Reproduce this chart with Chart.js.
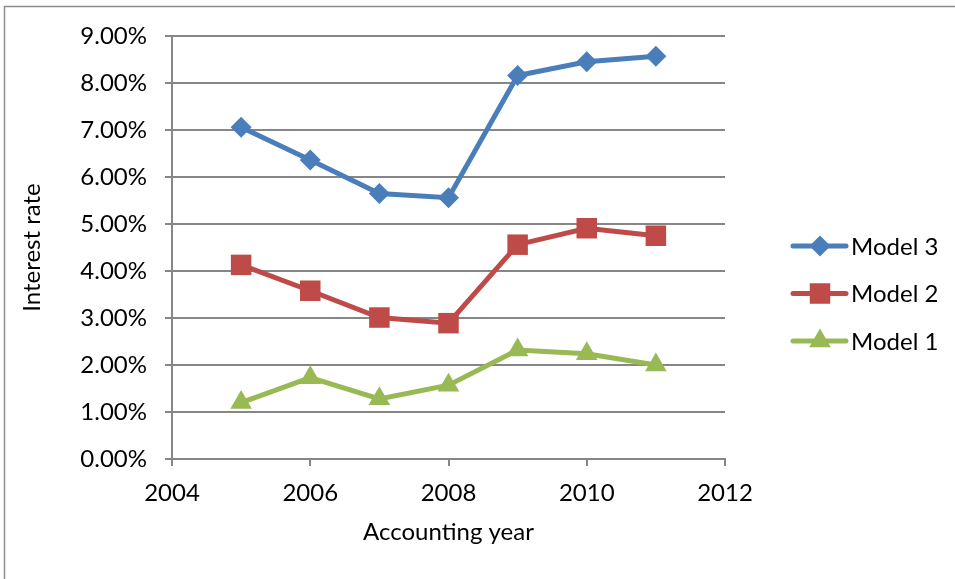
<!DOCTYPE html>
<html>
<head>
<meta charset="utf-8">
<script src="https://cdn.jsdelivr.net/npm/chart.js@4/dist/chart.umd.min.js"></script>
<style>
  html, body { margin: 0; padding: 0; background: #fff; overflow: hidden; }
  canvas { display: block; }
</style>
</head>
<body>
<canvas id="chart" width="955" height="579" style="width:955px;height:579px"></canvas>
<script>
let years = [2005, 2006, 2007, 2008, 2009, 2010, 2011];
let model3 = [7.06, 6.36, 5.65, 5.56, 8.16, 8.45, 8.57];
let model2 = [4.13, 3.58, 3.01, 2.89, 4.56, 4.91, 4.75];
let model1 = [1.20, 1.73, 1.28, 1.57, 2.32, 2.24, 2.00];
let seriesNames = ['Model 3', 'Model 2', 'Model 1'];
let seriesColors = ['#4A7EBB', '#BE4B48', '#98B954'];
let seriesMarkers = ['rectRot', 'rect', 'triangle'];
let markerSizes = [10.5, 14.5, 12.5];

const fontFamily = 'Lato, "Open Sans", sans-serif';

function toPoints(values) {
    return values.map(function (v, i) { return { x: years[i], y: v }; });
}

let datasets = [model3, model2, model1].map(function (values, i) {
    return {
        label: seriesNames[i],
        data: toPoints(values),
        borderColor: seriesColors[i],
        backgroundColor: seriesColors[i],
        borderWidth: 5,
        pointStyle: seriesMarkers[i],
        pointRadius: markerSizes[i],
        pointBorderWidth: 0,
        pointBackgroundColor: seriesColors[i],
        tension: 0
    };
});

// border around the whole picture and legend with line + marker
const decor = {
    id: 'decor',
    afterDraw(chart) {
        const ctx = chart.ctx;
        ctx.save();
        ctx.strokeStyle = '#8c8c8c';
        ctx.lineWidth = 1.5;
        ctx.strokeRect(4.5, 6.5, 1200, 1200);

        chart.data.datasets.forEach(function (ds, i) {
            let y = 246 + i * 47.5;
            ctx.strokeStyle = ds.borderColor;
            ctx.lineWidth = 5;
            ctx.lineCap = 'round';
            ctx.beginPath();
            ctx.moveTo(793, y);
            ctx.lineTo(846, y);
            ctx.stroke();
            ctx.fillStyle = ds.backgroundColor;
            Chart.helpers.drawPoint(ctx, {
                pointStyle: ds.pointStyle,
                radius: ds.pointRadius,
                borderWidth: 0,
                rotation: 0
            }, 820, y);
            ctx.fillStyle = '#000';
            ctx.font = '24px ' + fontFamily;
            ctx.textBaseline = 'middle';
            ctx.textAlign = 'left';
            ctx.fillText(ds.label, 851, y + 1);
        });
        ctx.restore();
    }
};

const ctx = document.getElementById('chart');

let chart = new Chart(ctx, {
    type: 'line',
    data: { datasets: datasets },
    plugins: [decor],
    options: {
        responsive: false,
        maintainAspectRatio: false,
        animation: false,
        devicePixelRatio: 1,
        layout: {
            padding: { left: 14, top: 36, right: 230, bottom: 28 }
        },
        scales: {
            x: {
                type: 'linear',
                min: 2004,
                max: 2012,
                afterFit: function (s) { s.height = 92; },
                ticks: {
                    stepSize: 2,
                    color: '#000',
                    padding: 13,
                    font: { family: fontFamily, size: 24 },
                    callback: function (v) { return String(v); }
                },
                grid: {
                    drawOnChartArea: false,
                    drawTicks: true,
                    tickLength: 7,
                    color: '#868686',
                    lineWidth: 2
                },
                border: { color: '#868686', width: 2 },
                title: {
                    display: true,
                    text: 'Accounting year',
                    color: '#000',
                    font: { family: fontFamily, size: 24 },
                    padding: { top: 4, bottom: 4 }
                }
            },
            y: {
                min: 0,
                max: 9,
                afterFit: function (s) { s.width = 158; },
                ticks: {
                    stepSize: 1,
                    color: '#000',
                    padding: 18,
                    font: { family: fontFamily, size: 24 },
                    callback: function (v) { return v.toFixed(2) + '%'; }
                },
                grid: {
                    color: '#868686',
                    lineWidth: 2,
                    drawTicks: true,
                    tickLength: 7
                },
                border: { color: '#868686', width: 2 },
                title: {
                    display: true,
                    text: 'Interest rate',
                    color: '#000',
                    font: { family: fontFamily, size: 24 },
                    padding: { top: 4, bottom: 4 }
                }
            }
        },
        plugins: {
            legend: { display: false },
            tooltip: { enabled: false }
        }
    }
});
</script>
</body>
</html>
